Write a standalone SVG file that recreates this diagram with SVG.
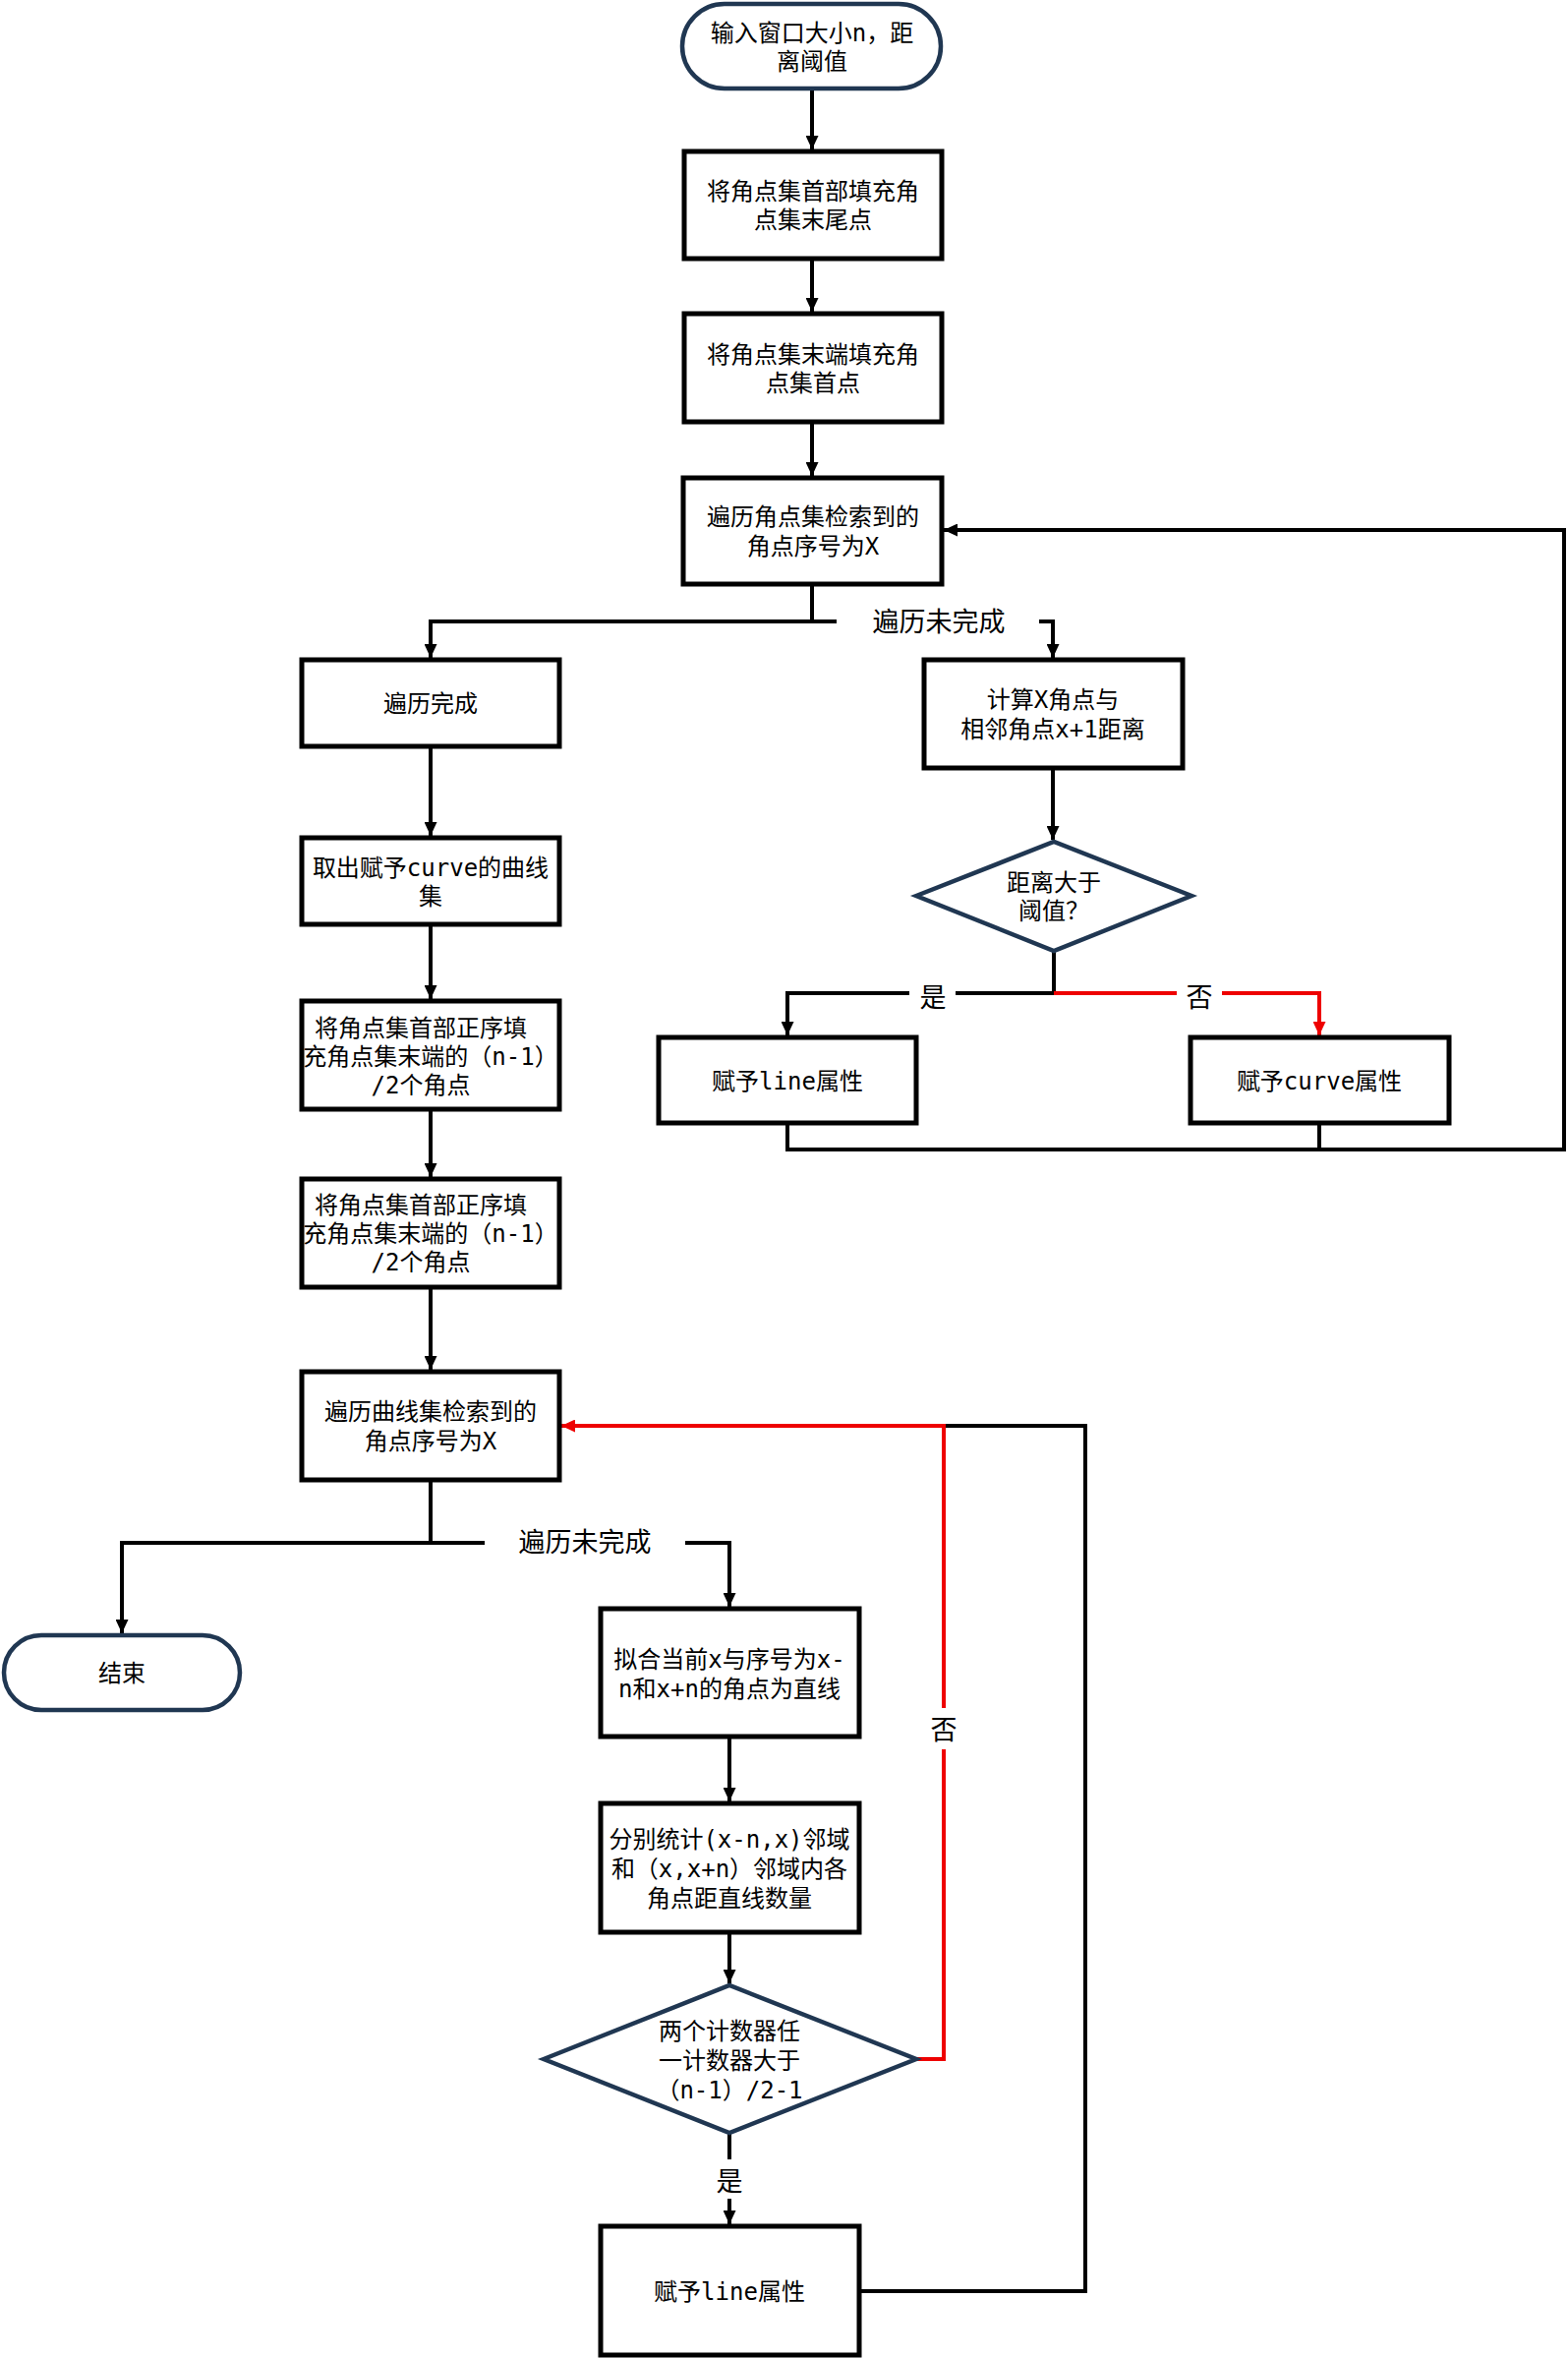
<svg xmlns="http://www.w3.org/2000/svg" width="1595" height="2398" viewBox="0 0 1595 2398">
<style>
.bg{fill:#ffffff}
.box{fill:#ffffff;stroke:#000000;stroke-width:5}
.term{fill:#ffffff;stroke:#203752;stroke-width:4.5}
.dia{fill:#ffffff;stroke:#203752;stroke-width:4.5}
.t{font-family:"DejaVu Sans Mono","Noto Sans CJK SC",sans-serif;font-size:24px;fill:#000000;text-anchor:middle;dominant-baseline:central}
.lbl{font-family:"Noto Sans CJK SC",sans-serif;font-size:27px;fill:#000000;text-anchor:middle;dominant-baseline:central}
.c{fill:none;stroke:#000000;stroke-width:4}
.r{fill:none;stroke:#ee0000;stroke-width:4}
.lb{fill:#ffffff;stroke:none}
</style>
<defs>
<marker id="ab" markerUnits="userSpaceOnUse" markerWidth="14" markerHeight="13" refX="14" refY="6.5" orient="auto">
<path d="M0,0 L14,6.5 L0,13 z" fill="#000000"/>
</marker>
<marker id="ar" markerUnits="userSpaceOnUse" markerWidth="14" markerHeight="13" refX="14" refY="6.5" orient="auto">
<path d="M0,0 L14,6.5 L0,13 z" fill="#ee0000"/>
</marker>
</defs>
<rect class="bg" x="0" y="0" width="1595" height="2398"/>

<g id="connectors">
<path class="c" d="M826,90 V152" marker-end="url(#ab)"/>
<path class="c" d="M826,263 V317" marker-end="url(#ab)"/>
<path class="c" d="M826,429 V484" marker-end="url(#ab)"/>
<path class="c" d="M826,594 V632 H438 V669" marker-end="url(#ab)"/>
<path class="c" d="M826,632 H1071 V669" marker-end="url(#ab)"/>
<rect class="lb" x="851" y="612" width="206" height="40"/>
<text class="lbl" x="955" y="630">遍历未完成</text>
<path class="c" d="M1071,781 V854" marker-end="url(#ab)"/>
<path class="c" d="M1072,967 V1010 H801 V1053" marker-end="url(#ab)"/>
<path class="r" d="M1072,1010 H1342 V1053" marker-end="url(#ar)"/>
<rect class="lb" x="925" y="992" width="47" height="36"/>
<text class="lbl" x="949" y="1012">是</text>
<rect class="lb" x="1197" y="992" width="46" height="36"/>
<text class="lbl" x="1220" y="1012">否</text>
<path class="c" d="M801,1142 V1169 H1591 V539 H960" marker-end="url(#ab)"/>
<path class="c" d="M1342,1142 V1169"/>
<path class="c" d="M438,759 V850" marker-end="url(#ab)"/>
<path class="c" d="M438,940 V1016" marker-end="url(#ab)"/>
<path class="c" d="M438,1128 V1197" marker-end="url(#ab)"/>
<path class="c" d="M438,1309 V1393" marker-end="url(#ab)"/>
<path class="c" d="M438,1505 V1569 H124 V1661" marker-end="url(#ab)"/>
<path class="c" d="M438,1569 H742 V1634" marker-end="url(#ab)"/>
<rect class="lb" x="493" y="1549" width="204" height="40"/>
<text class="lbl" x="595" y="1566">遍历未完成</text>
<path class="c" d="M742,1766 V1832" marker-end="url(#ab)"/>
<path class="c" d="M742,1965 V2017" marker-end="url(#ab)"/>
<path class="c" d="M742,2169 V2262" marker-end="url(#ab)"/>
<rect class="lb" x="720" y="2196" width="44" height="40"/>
<text class="lbl" x="742" y="2216">是</text>
<path class="c" d="M874,2330 H1104 V1450 H960"/>
<path class="r" d="M932,2094 H960 V1450 H571" marker-end="url(#ar)"/>
<rect class="lb" x="940" y="1737" width="40" height="42"/>
<text class="lbl" x="960" y="1757">否</text>
</g>

<g id="start">
<rect class="term" x="694" y="4" width="263" height="86" rx="43" ry="43"/>
<text class="t" x="826" y="34">输入窗口大小n，距</text>
<text class="t" x="826" y="63">离阈值</text>
</g>
<g id="fill-head">
<rect class="box" x="696" y="154" width="262" height="109"/>
<text class="t" x="827" y="195">将角点集首部填充角</text>
<text class="t" x="827" y="224">点集末尾点</text>
</g>
<g id="fill-tail">
<rect class="box" x="696" y="319" width="262" height="110"/>
<text class="t" x="827" y="361">将角点集末端填充角</text>
<text class="t" x="827" y="390">点集首点</text>
</g>
<g id="traverse-corners">
<rect class="box" x="695" y="486" width="263" height="108"/>
<text class="t" x="827" y="526">遍历角点集检索到的</text>
<text class="t" x="827" y="556">角点序号为X</text>
</g>
<g id="traverse-done">
<rect class="box" x="307" y="671" width="262" height="88"/>
<text class="t" x="438" y="716">遍历完成</text>
</g>
<g id="calc-distance">
<rect class="box" x="940" y="671" width="263" height="110"/>
<text class="t" x="1071" y="712">计算X角点与</text>
<text class="t" x="1071" y="742">相邻角点x+1距离</text>
</g>
<g id="dist-decision">
<polygon class="dia" points="932,911 1072,856 1212,911 1072,967"/>
<text class="t" x="1072" y="898">距离大于</text>
<text class="t" x="1072" y="927">阈值？</text>
</g>
<g id="assign-line-1">
<rect class="box" x="670" y="1055" width="262" height="87"/>
<text class="t" x="801" y="1100">赋予line属性</text>
</g>
<g id="assign-curve">
<rect class="box" x="1211" y="1055" width="263" height="87"/>
<text class="t" x="1342" y="1100">赋予curve属性</text>
</g>
<g id="take-curves">
<rect class="box" x="307" y="852" width="262" height="88"/>
<text class="t" x="438" y="883">取出赋予curve的曲线</text>
<text class="t" x="438" y="912">集</text>
</g>
<g id="fill-order-1">
<rect class="box" x="307" y="1018" width="262" height="110"/>
<text class="t" x="428" y="1046">将角点集首部正序填</text>
<text class="t" x="438" y="1075">充角点集末端的（n-1）</text>
<text class="t" x="428" y="1104">/2个角点</text>
</g>
<g id="fill-order-2">
<rect class="box" x="307" y="1199" width="262" height="110"/>
<text class="t" x="428" y="1226">将角点集首部正序填</text>
<text class="t" x="438" y="1255">充角点集末端的（n-1）</text>
<text class="t" x="428" y="1284">/2个角点</text>
</g>
<g id="traverse-curves">
<rect class="box" x="307" y="1395" width="262" height="110"/>
<text class="t" x="438" y="1436">遍历曲线集检索到的</text>
<text class="t" x="438" y="1466">角点序号为X</text>
</g>
<g id="end">
<rect class="term" x="4" y="1663" width="240" height="76" rx="38" ry="38"/>
<text class="t" x="124" y="1702">结束</text>
</g>
<g id="fit-line">
<rect class="box" x="611" y="1636" width="263" height="130"/>
<text class="t" x="742" y="1688">拟合当前x与序号为x-</text>
<text class="t" x="742" y="1718">n和x+n的角点为直线</text>
</g>
<g id="count">
<rect class="box" x="611" y="1834" width="263" height="131"/>
<text class="t" x="742" y="1871">分别统计(x-n,x)邻域</text>
<text class="t" x="742" y="1901">和（x,x+n）邻域内各</text>
<text class="t" x="742" y="1931">角点距直线数量</text>
</g>
<g id="count-decision">
<polygon class="dia" points="553,2094 742,2019 932,2094 742,2169"/>
<text class="t" x="742" y="2066">两个计数器任</text>
<text class="t" x="742" y="2096">一计数器大于</text>
<text class="t" x="742" y="2126">（n-1）/2-1</text>
</g>
<g id="assign-line-2">
<rect class="box" x="611" y="2264" width="263" height="131"/>
<text class="t" x="742" y="2331">赋予line属性</text>
</g>
</svg>
